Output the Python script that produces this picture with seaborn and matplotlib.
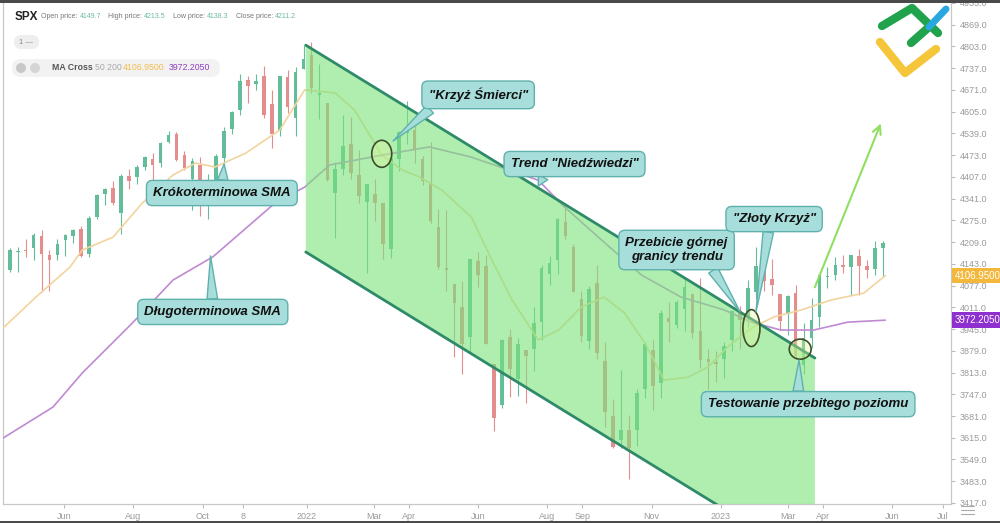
import matplotlib
matplotlib.use("Agg")
import matplotlib.pyplot as plt
import matplotlib.dates as mdates
import matplotlib.transforms as mtransforms
from matplotlib.patches import Ellipse, Polygon, FancyBboxPatch, Circle, Rectangle
import seaborn as sns
import pandas as pd
import numpy as np

# ---- data: weekly SPX candles (week starting Monday) ----
weeks = pd.date_range("2021-04-12", "2023-05-22", freq="W-MON")
open_ = [4124, 4179, 4185, 4192, 4228, 4170, 4170, 4216, 4229, 4249, 4174, 4285, 4356, 4373,
         4296, 4410, 4407, 4438, 4461, 4450, 4514, 4536, 4474, 4402, 4442, 4348, 4385, 4464,
         4553, 4610, 4701, 4689, 4712, 4628, 4548, 4711, 4587, 4733,
         4778, 4655, 4632, 4357, 4431, 4506, 4412, 4332, 4354, 4328, 4188, 4462, 4541, 4548,
         4462, 4386, 4255, 4130, 4082, 4013, 3920, 4151, 4135, 3838, 3715, 3920, 3793, 3881,
         3883, 3966, 4113, 4155, 4270, 4195, 4035, 3910, 4084, 3849, 3682, 3609, 3639, 3638,
         3762, 3881, 3780, 3978, 3957, 4006, 4052, 3940, 3853, 3843,
         3853, 3911, 3999, 3979, 4056, 4120, 4097, 4052, 3992, 4055, 3835, 3917, 3982, 4102,
         4110, 4140, 4134, 4166, 4137, 4126, 4190]
high = [4191, 4195, 4218, 4238, 4246, 4184, 4219, 4234, 4249, 4258, 4287, 4355, 4372, 4394,
        4415, 4430, 4442, 4469, 4480, 4513, 4545, 4542, 4487, 4465, 4466, 4415, 4475, 4559,
        4608, 4718, 4714, 4718, 4744, 4672, 4713, 4731, 4741, 4808,
        4818, 4749, 4632, 4453, 4595, 4590, 4490, 4385, 4402, 4329, 4465, 4546, 4637, 4593,
        4471, 4513, 4308, 4307, 4082, 4090, 4159, 4178, 4169, 3838, 3914, 3946, 3919, 3882,
        4012, 4140, 4168, 4281, 4325, 4203, 4062, 4077, 4140, 3907, 3733, 3821, 3685, 3762,
        3905, 3911, 4002, 4028, 4034, 4101, 4052, 4101, 3883, 3878,
        3906, 4003, 4015, 4095, 4195, 4176, 4159, 4052, 4049, 4079, 3962, 4039, 4110, 4133,
        4163, 4170, 4170, 4187, 4155, 4212, 4213]
low = [4119, 4118, 4164, 4156, 4056, 4062, 4155, 4168, 4207, 4165, 4165, 4278, 4321, 4322,
       4233, 4370, 4385, 4428, 4367, 4436, 4509, 4456, 4427, 4306, 4288, 4278, 4329, 4447,
       4537, 4595, 4630, 4672, 4585, 4495, 4532, 4600, 4531, 4733,
       4662, 4582, 4395, 4222, 4414, 4401, 4327, 4115, 4273, 4157, 4161, 4425, 4507, 4450,
       4381, 4267, 4128, 4062, 3859, 3810, 3876, 4074, 3900, 3637, 3705, 3738, 3742, 3721,
       3819, 3911, 4080, 4112, 4218, 4058, 3907, 3884, 3855, 3647, 3585, 3584, 3491, 3590,
       3735, 3698, 3735, 3906, 3947, 3940, 3918, 3828, 3764, 3783,
       3795, 3877, 3885, 3950, 4037, 4060, 4048, 3944, 3928, 3854, 3808, 3889, 3952, 4069,
       4095, 4114, 4049, 4048, 4099, 4110, 4103]
close = [4185, 4180, 4181, 4232, 4174, 4156, 4204, 4230, 4247, 4166, 4281, 4352, 4370, 4327,
         4411, 4395, 4437, 4468, 4442, 4509, 4535, 4458, 4433, 4455, 4357, 4391, 4471, 4545,
         4605, 4697, 4682, 4698, 4595, 4538, 4712, 4620, 4725, 4766,
         4677, 4663, 4398, 4432, 4500, 4419, 4349, 4385, 4329, 4204, 4463, 4543, 4546, 4488,
         4393, 4272, 4132, 4123, 4024, 3901, 4158, 4109, 3901, 3675, 3912, 3825, 3899, 3863,
         3962, 4130, 4145, 4280, 4228, 4058, 3924, 4067, 3873, 3693, 3586, 3640, 3583, 3752,
         3901, 3771, 3993, 3965, 4026, 4072, 3934, 3852, 3845, 3840,
         3895, 3999, 3973, 4071, 4136, 4090, 4079, 3970, 4046, 3862, 3917, 3971, 4109, 4105,
         4138, 4133, 4169, 4136, 4124, 4192, 4205]

# moving averages
sma50_dates = ["2021-04-08", "2021-05-07", "2021-06-06", "2021-06-17", "2021-07-14", "2021-08-09",
               "2021-09-05", "2021-09-25", "2021-10-12", "2021-11-08", "2021-12-08", "2021-12-30",
               "2022-01-26", "2022-02-12", "2022-03-08", "2022-03-26", "2022-04-10", "2022-04-30",
               "2022-05-26", "2022-06-13", "2022-07-01", "2022-07-24", "2022-08-11", "2022-08-31",
               "2022-09-20", "2022-10-08", "2022-10-26", "2022-11-12", "2022-12-03", "2022-12-21",
               "2023-01-07", "2023-01-28", "2023-02-17", "2023-03-13", "2023-04-08", "2023-05-07",
               "2023-05-26"]
sma50 = [3948, 4042, 4133, 4185, 4224, 4328, 4413, 4449, 4437, 4479, 4549, 4671, 4662, 4610,
         4473, 4428, 4407, 4367, 4285, 4155, 4033, 3912, 3942, 4012, 4042, 3994, 3903, 3790,
         3799, 3830, 3891, 3948, 3982, 4003, 4033, 4054, 4107]
sma200_dates = ["2021-04-08", "2021-05-22", "2021-06-17", "2021-07-31", "2021-09-05", "2021-10-10",
                "2021-12-04", "2021-12-30", "2022-01-21", "2022-03-08", "2022-04-19", "2022-05-26",
                "2022-07-24", "2022-08-16", "2022-09-18", "2022-10-23", "2022-11-27", "2023-01-04",
                "2023-01-28", "2023-02-23", "2023-03-24", "2023-04-23", "2023-05-26"]
sma200 = [3614, 3708, 3812, 3963, 4094, 4164, 4328, 4376, 4443, 4473, 4498, 4467, 4397, 4316,
          4215, 4109, 4042, 4003, 3966, 3942, 3942, 3966, 3972]

channel_dates = ["2021-12-31", "2023-03-25"]
channel_top = [4807, 3857]
channel_bottom = [4179, 3229]

x_tick_dates = ["2021-06-01", "2021-08-01", "2021-10-01", "2021-11-06", "2022-01-01", "2022-03-01",
                "2022-04-01", "2022-06-01", "2022-08-01", "2022-09-01", "2022-11-01", "2023-01-01",
                "2023-03-01", "2023-04-01", "2023-06-01", "2023-07-16"]
x_tick_labels = ["Jun", "Aug", "Oct", "8", "2022", "Mar", "Apr", "Jun", "Aug", "Sep", "Nov", "2023",
                 "Mar", "Apr", "Jun", "Jul"]
y_ticks = list(range(3417, 4936, 66))

GREEN = "#63bd98"
RED = "#e38d8d"
BOX = "#a7dedb"
BOX_EDGE = "#5fb1ad"


def d(s):
    return mdates.date2num(pd.Timestamp(s))


sns.set_style("white")
plt.rcParams["font.family"] = ["Liberation Sans", "DejaVu Sans"]

fig = plt.figure(figsize=(10, 5.23), dpi=100)
ax = fig.add_axes([0.003, 19 / 523, 0.948, 501.5 / 523])

# candles
x = mdates.date2num(weeks + pd.Timedelta(days=2))
o, h, l, c = map(np.array, (open_, high, low, close))
colors = np.where(c >= o, GREEN, RED)
ax.vlines(x, l, h, colors=colors, lw=0.8, zorder=2)
ax.bar(x, np.maximum(np.abs(c - o), 4), bottom=np.minimum(o, c), width=3.2,
       color=colors, linewidth=0, zorder=3)

# moving averages
sns.lineplot(x=[d(s) for s in sma50_dates], y=sma50, ax=ax, color="#f2d49e", lw=1.2, zorder=4)
sns.lineplot(x=[d(s) for s in sma200_dates], y=sma200, ax=ax, color="#c08ad2", lw=1.2, zorder=4)

# bear channel
cx = [d(s) for s in channel_dates]
ax.add_patch(Polygon([(cx[0], channel_top[0]), (cx[1], channel_top[1]),
                      (cx[1], channel_bottom[1]), (cx[0], channel_bottom[0])],
                     closed=True, fc="#7be37b", ec="none", alpha=0.6, zorder=5))
ax.plot(cx, channel_top, color="#2e8a68", lw=2, zorder=6)
ax.plot(cx, channel_bottom, color="#2e8a68", lw=2, zorder=6)

# circles around crosses / retest
for cd, cp, w, hh in [("2022-03-08", 4477, 17.6, 82), ("2023-01-28", 3948, 15, 112),
                      ("2023-03-12", 3884, 19.3, 61)]:
    ax.add_patch(Ellipse((d(cd), cp), w, hh, fc="#e4f59a", alpha=0.35, ec="none", zorder=7))
    ax.add_patch(Ellipse((d(cd), cp), w, hh, fc="none", ec="#3c4f2a", lw=1.2, zorder=7))

# breakout arrow
ax.annotate("", xy=(d("2023-05-23"), 4577), xytext=(d("2023-03-24"), 4064),
            arrowprops=dict(arrowstyle="->,head_length=0.6,head_width=0.3", color="#8fe060", lw=1.5),
            zorder=6)


def callout(text, tip, pos, relpos):
    ax.annotate(text, xy=(d(tip[0]), tip[1]), xytext=(d(pos[0]), pos[1]),
                ha="center", va="center", fontsize=9.5, fontweight="bold", fontstyle="italic",
                color="#111111", linespacing=1.25,
                bbox=dict(boxstyle="round,pad=0.5,rounding_size=0.45", fc=BOX, ec=BOX_EDGE, lw=1),
                arrowprops=dict(arrowstyle="wedge,tail_width=0.8,shrink_factor=0.5", fc=BOX,
                                ec=BOX_EDGE, lw=1, relpos=relpos, shrinkA=0, shrinkB=0),
                zorder=9, annotation_clip=False)


callout('"Krzyż Śmierci"', ("2022-03-18", 4516), ("2022-06-01", 4656), (0.15, 0.3))
callout('Trend "Niedźwiedzi"', ("2022-07-24", 4379), ("2022-08-25", 4446), (0.3, 0.3))
callout("Krókoterminowa SMA", ("2021-10-20", 4446), ("2021-10-18", 4358), (0.5, 0.7))
callout("Długoterminowa SMA", ("2021-10-08", 4167), ("2021-10-10", 3997), (0.5, 0.7))
callout("Przebicie górnej\ngranicy trendu", ("2023-01-18", 3997), ("2022-11-23", 4185), (0.78, 0.2))
callout('"Złoty Krzyż"', ("2023-02-01", 3997), ("2023-02-17", 4279), (0.45, 0.3))
callout("Testowanie przebitego poziomu", ("2023-03-11", 3851), ("2023-03-19", 3717), (0.45, 0.7))

# axes styling
ax.set_xlim(d("2021-04-08"), d("2023-07-23"))
ax.set_ylim(3413.9, 4936.4)
ax.yaxis.tick_right()
ax.set_yticks(y_ticks)
ax.set_yticklabels([f"{v:.1f}" for v in y_ticks])
ax.set_xticks([d(s) for s in x_tick_dates])
ax.set_xticklabels(x_tick_labels)
ax.tick_params(axis="both", which="both", length=3, width=0.8, color="#bbbbbb",
               labelsize=6.5, labelcolor="#9a9a9a", pad=3)
ax.tick_params(axis="y", right=True, left=False)
ax.tick_params(axis="x", bottom=True)
ax.set_xlabel("")
ax.set_ylabel("")
ax.spines["top"].set_visible(False)
for side in ["left", "right", "bottom"]:
    ax.spines[side].set_color("#c8c8c8")
    ax.spines[side].set_linewidth(0.9)

# last value labels on the price scale
blend = mtransforms.blended_transform_factory(ax.transAxes, ax.transData)
for val, col in [(4106.95, "#f3b73c"), (3972.205, "#8e2fd0")]:
    ax.text(1.004, val, f"{val:.4f}", transform=blend, ha="left", va="center", fontsize=7,
            color="white", zorder=10, clip_on=False,
            bbox=dict(boxstyle="square,pad=0.28", fc=col, ec="none"))

# overlay in pixel coordinates for header, logo and frame
ov = fig.add_axes([0, 0, 1, 1], zorder=20)
ov.set_xlim(0, 1000)
ov.set_ylim(523, 0)
ov.axis("off")
ov.patch.set_alpha(0)

ov.text(15, 17, "SPX", fontsize=8.5, fontweight="bold", color="#222222", va="center")
for label, lx, val in [("Open price:", 41, "4149.7"), ("High price:", 108, "4213.5"),
                       ("Low price:", 173, "4138.3"), ("Close price:", 236, "4211.2")]:
    t = ov.text(lx, 17, label, fontsize=5, color="#777777", va="center")
    ov.annotate(val, xy=(1, 0.5), xycoords=t, xytext=(1.5, 0), textcoords="offset points",
                fontsize=5, color="#6dbb9b", va="center")

ov.add_patch(FancyBboxPatch((14, 35), 25, 14, boxstyle="round,pad=0,rounding_size=7",
                            fc="#eeeeee", ec="none"))
ov.text(19, 42.5, "1 —", fontsize=5.5, color="#888888", va="center")
ov.add_patch(FancyBboxPatch((12, 59), 208, 18, boxstyle="round,pad=0,rounding_size=9",
                            fc="#f2f2f2", ec="none"))
ov.add_patch(Circle((21, 68), 5, fc="#c8c8c8", ec="none"))
ov.add_patch(Circle((35, 68), 5, fc="#d5d5d5", ec="none"))
ov.text(52, 68, "MA Cross", fontsize=6.3, fontweight="bold", color="#555555", va="center")
ov.text(95, 68, "50 200", fontsize=6.3, color="#aaaaaa", va="center")
ov.text(123, 68, "4106.9500", fontsize=6.3, color="#f3bd4f", va="center")
ov.text(169, 68, "3972.2050", fontsize=6.3, color="#8e3fc0", va="center")

# logo
ov.plot([880, 905, 936], [42, 73, 49], color="#f6c63a", lw=6, solid_capstyle="round",
        solid_joinstyle="round")
ov.plot([882, 912, 938], [26, 8, 33], color="#20a34c", lw=6, solid_capstyle="round",
        solid_joinstyle="round")
ov.plot([911, 929], [43, 27], color="#20a34c", lw=6, solid_capstyle="round")
ov.plot([929, 946], [27, 9], color="#2aa7e0", lw=5, solid_capstyle="round")

# settings icon bottom right
for yy in (506, 510, 514):
    ov.plot([961, 974], [yy, yy], color="#aaaaaa", lw=0.8)

# dark screenshot frame
ov.add_patch(Rectangle((0, 0), 1000, 2.5, fc="#4a4a4a", ec="none"))
ov.add_patch(Rectangle((0, 520.5), 1000, 2.5, fc="#4a4a4a", ec="none"))

fig.savefig("out.png", dpi=100)
